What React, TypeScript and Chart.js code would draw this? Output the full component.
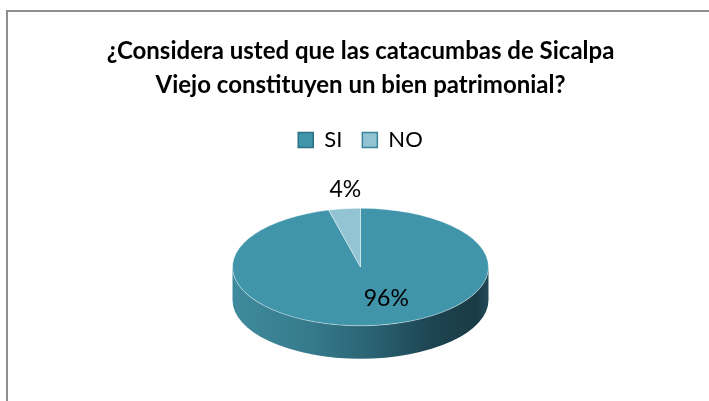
import React, { useEffect, useRef } from "react";
import { Chart, registerables } from "chart.js";

Chart.register(...registerables);

const TITLE_LINES = [
  "¿Considera usted que las catacumbas de Sicalpa",
  "Viejo constituyen un bien patrimonial?",
];
const CATEGORIES = ["SI", "NO"];
const VALUES = [96, 4];
const SLICE_COLORS = ["#4195AB", "#93C4D4"];
const LEGEND_BORDERS = ["#2D7083", "#3A8598"];

const FONT = "Lato, 'Open Sans', sans-serif";

const pie3d = {
  id: "pie3d",
  beforeDatasetsDraw(chart: any, _args: any, opts: any) {
    const arcs = chart.getDatasetMeta(0).data;
    const ctx = chart.ctx;
    ctx.save();
    if (!arcs.length) return;
    const a: any = arcs[0];
    const cx = a.x;
    const cy = a.y;
    const rx = a.outerRadius;
    const ry = rx * opts.tilt;
    const d = opts.depth;
    const g = ctx.createLinearGradient(cx - rx, 0, cx + rx, 0);
    g.addColorStop(0, "#3F8B9D");
    g.addColorStop(0.3, "#367B8C");
    g.addColorStop(0.55, "#2A6273");
    g.addColorStop(0.78, "#1D4451");
    g.addColorStop(0.95, "#1B3B46");
    g.addColorStop(1, "#214A56");
    ctx.beginPath();
    ctx.ellipse(cx, cy + d, rx, ry, 0, 0, Math.PI);
    ctx.lineTo(cx - rx, cy);
    ctx.ellipse(cx, cy, rx, ry, 0, Math.PI, 0, true);
    ctx.closePath();
    ctx.fillStyle = g;
    ctx.fill();
    ctx.translate(cx, cy);
    ctx.scale(1, opts.tilt);
    ctx.translate(-cx, -cy);
  },
  afterDatasetsDraw(chart: any, _args: any, opts: any) {
    const ctx = chart.ctx;
    ctx.restore();
    const meta = chart.getDatasetMeta(0);
    const data = chart.data.datasets[0].data as number[];
    const total = data.reduce((s, v) => s + v, 0);
    ctx.save();
    ctx.font = `23px ${FONT}`;
    ctx.fillStyle = "#000";
    ctx.textAlign = "center";
    ctx.textBaseline = "middle";
    meta.data.forEach((arc: any, i: number) => {
      const mid = (arc.startAngle + arc.endAngle) / 2;
      const share = data[i] / total;
      const f = share > 0.5 ? opts.insideFactor : opts.outsideFactor;
      const nudge = opts.nudge[i] || 0;
      const x = arc.x + Math.cos(mid) * arc.outerRadius * f + nudge;
      const y = arc.y + Math.sin(mid) * arc.outerRadius * opts.tilt * f;
      ctx.fillText(`${Math.round(share * 100)}%`, x, y);
    });
    ctx.restore();
  },
};

export default function App() {
  const ref = useRef<HTMLCanvasElement | null>(null);

  useEffect(() => {
    if (!ref.current) return;
    const chart = new Chart(ref.current, {
      type: "pie",
      data: {
        labels: CATEGORIES,
        datasets: [
          {
            data: VALUES,
            backgroundColor: SLICE_COLORS,
            borderColor: "rgba(255,255,255,0.55)",
            borderWidth: 1,
            radius: 128,
            clip: false,
          } as any,
        ],
      },
      options: {
        responsive: false,
        animation: false,
        events: [],
        layout: { padding: { left: 12, top: 0, right: 0, bottom: 28 } },
        plugins: {
          title: {
            display: true,
            text: TITLE_LINES,
            color: "#000",
            font: { family: FONT, size: 24, weight: "bold", lineHeight: 1.417 },
            padding: { top: 34, bottom: 7 },
          },
          legend: {
            display: true,
            position: "top",
            labels: {
              boxWidth: 15,
              boxHeight: 15,
              padding: 20,
              color: "#000",
              font: { family: FONT, size: 22 },
              generateLabels: (c: any) =>
                c.data.labels.map((t: string, i: number) => ({
                  text: t,
                  fillStyle: SLICE_COLORS[i],
                  strokeStyle: LEGEND_BORDERS[i],
                  lineWidth: 1.5,
                  hidden: false,
                  index: i,
                })),
            },
          },
          tooltip: { enabled: false },
          pie3d: {
            tilt: 0.459,
            depth: 33,
            insideFactor: 0.55,
            outsideFactor: 1.32,
            nudge: [17, 6],
          },
        } as any,
      },
      plugins: [pie3d],
    });
    return () => chart.destroy();
  }, []);

  return (
    <div
      style={{
        position: "fixed",
        left: 0,
        top: 0,
        width: 709,
        height: 401,
        overflow: "hidden",
        background: "#fff",
      }}
    >
      <div
        style={{
          position: "absolute",
          left: 6,
          top: 10,
          width: 760,
          height: 460,
          borderLeft: "2px solid #8E8E8E",
          borderTop: "2px solid #8E8E8E",
        }}
      />
      <canvas
        ref={ref}
        width={709}
        height={401}
        style={{ position: "absolute", left: 0, top: 0 }}
      />
    </div>
  );
}
